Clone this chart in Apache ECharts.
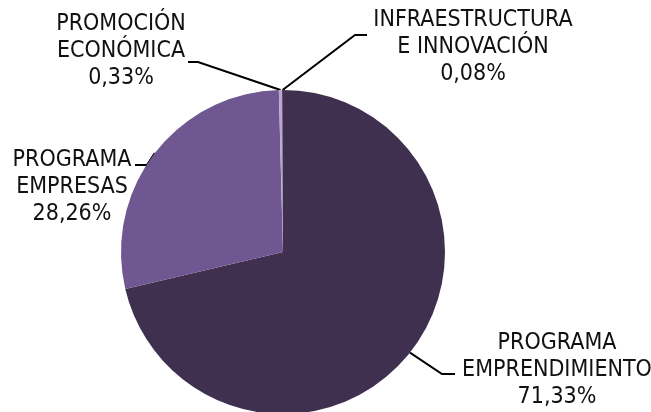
<!DOCTYPE html>
<html>
<head>
<meta charset="utf-8">
<script src="https://cdn.jsdelivr.net/npm/echarts@6/dist/echarts.min.js"></script>
<style>
html,body{margin:0;padding:0;background:#fff;}
#c{width:651px;height:412px;}
</style>
</head>
<body>
<div id="c"></div>
<script>
const categories = ['PROGRAMA\nEMPRENDIMIENTO', 'PROGRAMA\nEMPRESAS', 'PROMOCIÓN\nECONÓMICA', 'INFRAESTRUCTURA\nE INNOVACIÓN'];
const values = [71.33, 28.26, 0.33, 0.08];
const percentLabels = ['71,33%', '28,26%', '0,33%', '0,08%'];
const colors = ['#403050', '#6f5891', '#b9a7cf', '#3a2c4a'];

// label placement (label centre, elbow, end of leader line)
const layouts = [
  {x: 557, y: 370, elbow: [442, 374], end: [455, 374]},
  {x: 72, y: 187, elbow: [147, 165], end: [135, 165]},
  {x: 121, y: 51, elbow: [198, 62], end: [188, 62]},
  {x: 473, y: 47, elbow: [355, 35], end: [367, 35]}
];

const chart = echarts.init(document.getElementById('c'));
chart.setOption({
  animation: false,
  backgroundColor: '#fff',
  series: [{
    type: 'pie',
    center: [283, 252],
    radius: 162,
    startAngle: 90,
    clockwise: true,
    avoidLabelOverlap: false,
    silent: true,
    itemStyle: {borderWidth: 0},
    data: categories.map((c, i) => ({name: c, value: values[i], itemStyle: {color: colors[i], borderWidth: 0}})),
    label: {
      show: true,
      position: 'outside',
      formatter: p => p.name + '\n' + percentLabels[p.dataIndex],
      fontFamily: "'Liberation Sans Narrow', 'Arial Narrow', 'DejaVu Sans Condensed', sans-serif",
      fontSize: 23,
      lineHeight: 27,
      color: '#111',
      align: 'center'
    },
    labelLine: {
      show: true,
      lineStyle: {color: '#000', width: 2}
    },
    labelLayout: function (params) {
      const L = layouts[params.dataIndex];
      const p0 = params.labelLinePoints ? params.labelLinePoints[0] : [283, 90];
      return {
        x: L.x, y: L.y, align: 'center', verticalAlign: 'middle',
        labelLinePoints: [p0, L.elbow, L.end]
      };
    }
  }]
});
</script>
</body>
</html>
